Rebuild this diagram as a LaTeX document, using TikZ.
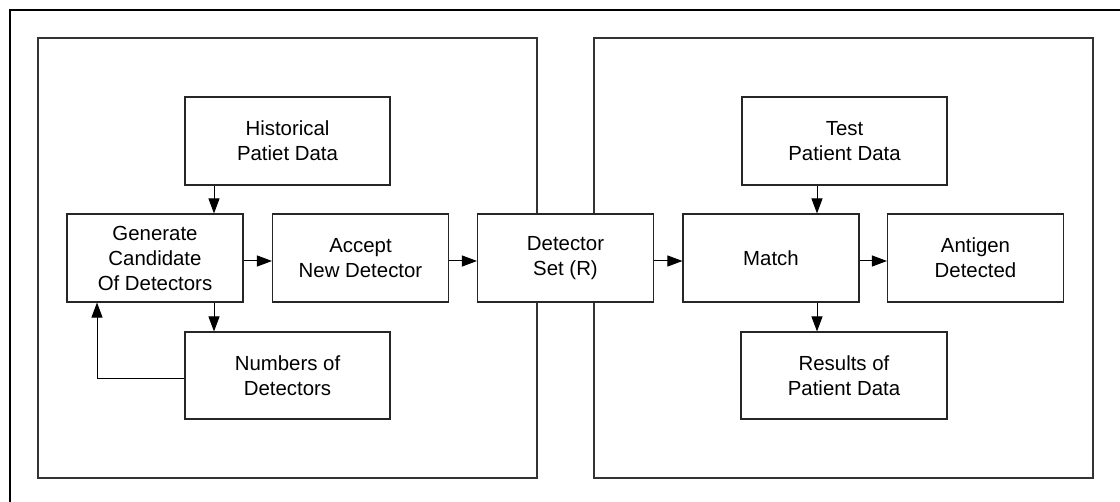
\documentclass[tikz,border=0pt]{standalone}
\usepackage{fontspec}
\setmainfont{Liberation Sans}
\usetikzlibrary{arrows.meta}
\begin{document}
\begin{tikzpicture}[x=1pt,y=-1pt,
  blk/.style={draw=black!85, line width=1.1pt, fill=white, minimum width=#1,
    minimum height=88pt, inner sep=0pt, align=center,
    font=\fontsize{20.4}{25}\selectfont},
  blk/.default=176pt,
  panel/.style={draw=black!80, line width=1.6pt},
  arr/.style={-{Triangle[length=15pt,width=11pt]}, line width=1pt},
  frame/.style={line width=2.6pt, draw=black}]
\useasboundingbox (0,0) rectangle (1120,502);
\fill[white] (0,0) rectangle (1120,502);
\draw[frame] (10,502) -- (10,10) -- (1120,10);
\draw[panel] (38,38) rectangle (537,478);
\draw[panel] (594,38) rectangle (1093,478);

\node[blk=205pt] (hist) at (287.5,141) {Historical\\Patiet Data};
\node[blk] (gen) at (155,258) {Generate\\Candidate\\Of Detectors};
\node[blk] (acc) at (360.5,258) {Accept\\New Detector};
\node[blk] (det) at (565.5,258) {Detector\\Set (R)};
\node[blk] (match) at (771,258) {Match};
\node[blk] (ant) at (975.5,258) {Antigen\\Detected};
\node[blk=205pt, minimum height=87pt] (num) at (287.5,375.5) {Numbers of\\Detectors};
\node[blk=205pt] (test) at (844.5,141) {Test\\Patient Data};
\node[blk=206pt, minimum height=87pt] (res) at (844,375.5) {Results of\\Patient Data};

\coordinate (xa) at (214,0);
\coordinate (xb) at (817,0);
\coordinate (xl) at (97,0);

\draw[arr] (hist.south -| xa) -- (gen.north -| xa);
\draw[arr] (gen.south -| xa) -- (num.north -| xa);
\draw[arr] ([yshift=-3pt]num.west) -- ([yshift=-3pt]num.west -| xl) -- (gen.south -| xl);
\draw[arr] ([yshift=-3pt]gen.east) -- ([yshift=-3pt]acc.west);
\draw[arr] ([yshift=-3pt]acc.east) -- ([yshift=-3pt]det.west);
\draw[arr] ([yshift=-3pt]det.east) -- ([yshift=-3pt]match.west);
\draw[arr] ([yshift=-3pt]match.east) -- ([yshift=-3pt]ant.west);
\draw[arr] (test.south -| xb) -- (match.north -| xb);
\draw[arr] (match.south -| xb) -- (res.north -| xb);
\end{tikzpicture}
\end{document}
